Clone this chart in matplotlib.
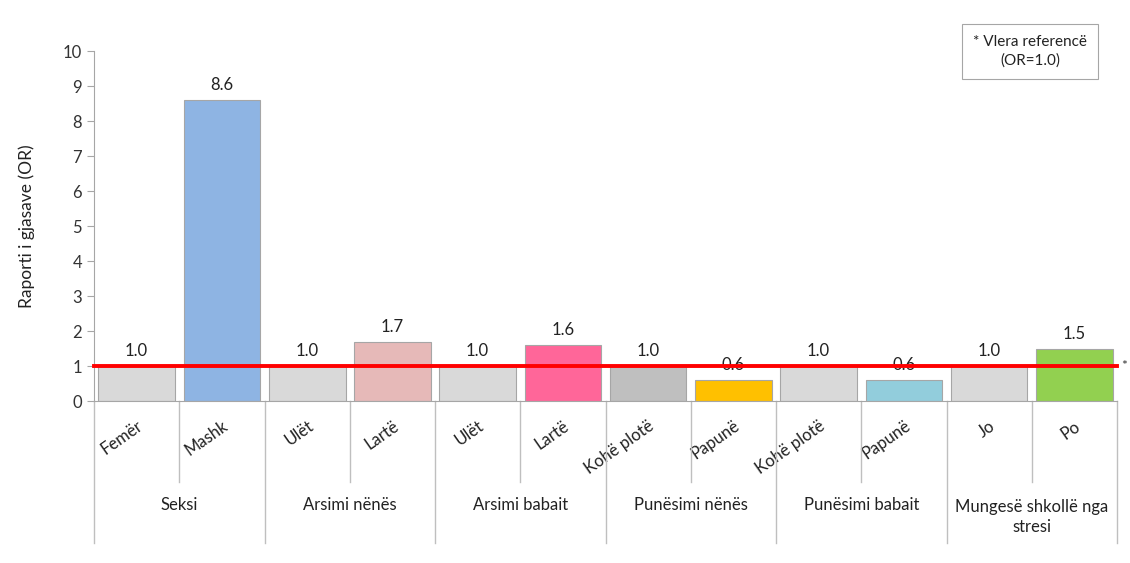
import numpy as np
import matplotlib
matplotlib.use("Agg")
import matplotlib.pyplot as plt
import matplotlib.transforms as mtrans

plt.rcParams['font.family'] = ['Lato', 'DejaVu Sans']

# DATA
groups = ["Seksi", "Arsimi nënës", "Arsimi babait", "Punësimi nënës",
          "Punësimi babait", "Mungesë shkollë nga\nstresi"]
labels = ["Femër", "Mashk", "Ulët", "Lartë", "Ulët", "Lartë",
          "Kohë plotë", "Papunë", "Kohë plotë", "Papunë", "Jo", "Po"]
values = [1.0, 8.6, 1.0, 1.7, 1.0, 1.6, 1.0, 0.6, 1.0, 0.6, 1.0, 1.5]
colors = ["#d9d9d9", "#8eb4e3", "#d9d9d9", "#e6b9b8", "#d9d9d9", "#ff6699",
          "#bfbfbf", "#ffc000", "#d9d9d9", "#92cddc", "#d9d9d9", "#92d050"]
ref = 1.0

fig = plt.figure(figsize=(11.3, 5.63), dpi=100)
ax = fig.add_axes([0.0832, 0.2877, 0.9053, 0.6217])

x = np.arange(len(values))
bars = ax.bar(x, values, width=0.9, color=colors, edgecolor="#a6a6a6", linewidth=0.8, zorder=2)
ax.bar_label(bars, fmt="%.1f", padding=5, fontsize=12, color="#222222")

# reference line
ax.plot([-0.5, len(values) - 0.5], [ref, ref], color="#ff0000", lw=2.8, zorder=3, clip_on=False)
ax.text(len(values) - 0.5 + 0.05, ref, "*", fontsize=10, va="center", ha="left", color="#333333")

ax.set_xlim(-0.5, len(values) - 0.5)
ax.set_ylim(0, 10)
ax.set_yticks(range(0, 11))
ax.tick_params(axis="y", labelsize=12, colors="#333333", length=5, color="#a6a6a6")
ax.set_ylabel("Raporti i gjasave (OR)", fontsize=12.5, color="#222222", labelpad=20)

ax.set_xticks(x)
ax.set_xticklabels(labels, rotation=35, ha="right", rotation_mode="anchor", fontsize=12, color="#222222")
ax.tick_params(axis="x", length=0, pad=12)

for s in ["top", "right"]:
    ax.spines[s].set_visible(False)
ax.spines["left"].set_color("#a6a6a6")
ax.spines["bottom"].set_color("#a6a6a6")

# category separators below the axis
trans = mtrans.blended_transform_factory(ax.transData, ax.transAxes)
for i in range(len(values) + 1):
    xe = i - 0.5
    ybot = -0.406 if i % 2 == 0 else -0.231
    ax.plot([xe, xe], [0, ybot], color="#bfbfbf", lw=1, transform=trans, clip_on=False)

for g, name in enumerate(groups):
    yg = -0.297 if "\n" not in name else -0.331
    ax.text(2 * g + 0.5, yg, name, transform=trans, ha="center", va="center",
            fontsize=12, color="#222222", linespacing=1.3)

fig.text(0.9115, 0.9085, "* Vlera referencë\n(OR=1.0)", ha="center", va="center", fontsize=11,
         color="#222222", linespacing=1.4,
         bbox=dict(boxstyle="square,pad=0.7", fc="white", ec="#a6a6a6", lw=0.8))

fig.savefig("out.png", dpi=100)
